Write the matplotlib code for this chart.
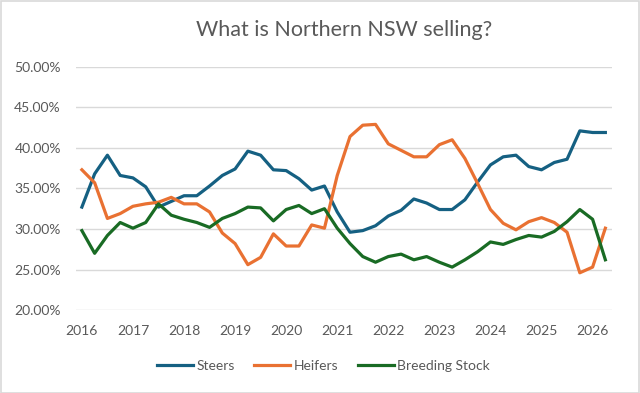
import numpy as np
import matplotlib.pyplot as plt
from matplotlib.patches import Rectangle
from matplotlib.ticker import PercentFormatter

plt.rcParams['font.family'] = ['Lato', 'DejaVu Sans']

# quarterly readings, 2016 Q1 .. 2026 Q2
start_year = 2016
steers = [32.7, 36.8, 39.1, 36.6, 36.3, 35.2, 32.7, 33.4, 34.1, 34.1,
          35.3, 36.6, 37.4, 39.6, 39.1, 37.3, 37.2, 36.2, 34.8, 35.3,
          32.1, 29.6, 29.8, 30.4, 31.6, 32.3, 33.7, 33.2, 32.4, 32.4,
          33.6, 35.8, 37.9, 38.9, 39.1, 37.7, 37.3, 38.2, 38.6, 42.1,
          41.9, 41.9]
heifers = [37.3, 35.7, 31.3, 31.9, 32.8, 33.1, 33.3, 33.9, 33.1, 33.1,
           32.1, 29.5, 28.2, 25.6, 26.5, 29.4, 27.9, 27.9, 30.5, 30.1,
           36.6, 41.4, 42.8, 42.9, 40.5, 39.7, 38.9, 38.9, 40.4, 41.0,
           38.7, 35.6, 32.4, 30.7, 29.9, 30.9, 31.4, 30.8, 29.6, 24.6,
           25.3, 30.1]
breeding = [29.8, 27.0, 29.2, 30.8, 30.1, 30.8, 33.1, 31.7, 31.2, 30.8,
            30.2, 31.3, 31.9, 32.7, 32.6, 31.0, 32.4, 32.9, 31.9, 32.5,
            30.1, 28.2, 26.6, 25.9, 26.6, 26.9, 26.2, 26.6, 25.9, 25.3,
            26.2, 27.2, 28.4, 28.1, 28.7, 29.2, 29.0, 29.7, 30.9, 32.4,
            31.2, 26.2]
years = list(range(2016, 2027))
yticks = [20, 25, 30, 35, 40, 45, 50]

x = start_year + np.arange(len(steers)) / 4

fig = plt.figure(figsize=(6.4, 3.93), dpi=100)
ax = fig.add_axes([0.119, 0.211, 0.837, 0.619])

ax.plot(x, steers, color='#156082', lw=2.3, label='Steers', solid_joinstyle='round')
ax.plot(x, heifers, color='#E97132', lw=2.3, label='Heifers', solid_joinstyle='round')
ax.plot(x, breeding, color='#196B24', lw=2.3, label='Breeding Stock', solid_joinstyle='round')

ax.set_xlim(2015.888, 2026.377)
ax.set_ylim(20, 50)
ax.set_yticks(yticks)
ax.set_xticks(years)
ax.yaxis.set_major_formatter(PercentFormatter(decimals=2))
ax.grid(axis='y', color='#D9D9D9', lw=1)
ax.set_axisbelow(True)
for s in ax.spines.values():
    s.set_visible(False)
ax.tick_params(length=0, labelsize=10, colors='#595959')
ax.tick_params(axis='y', pad=11)
ax.tick_params(axis='x', pad=11)

ax.set_title('What is Northern NSW selling?', fontsize=15.5, color='#595959', pad=22)

fig.legend(loc='center', bbox_to_anchor=(0.505, 0.069), ncol=3, frameon=False,
           fontsize=10, labelcolor='#595959', handlelength=2.6, handletextpad=0.25,
           columnspacing=1.4)

fig.patches.append(Rectangle((0.001, 0.001), 0.997, 0.997, transform=fig.transFigure,
                             fill=False, edgecolor='#D9D9D9', lw=1.2))

fig.savefig('out.png', dpi=100)
